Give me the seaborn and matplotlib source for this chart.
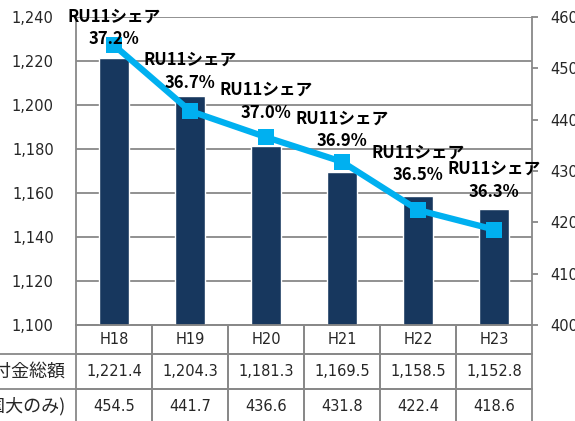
import matplotlib
matplotlib.use("Agg")
import matplotlib.pyplot as plt
import seaborn as sns
import numpy as np
import pandas as pd

# chart data
years = ["H18", "H19", "H20", "H21", "H22", "H23"]
total_grant = [1221.4, 1204.3, 1181.3, 1169.5, 1158.5, 1152.8]
ru11_grant = [454.5, 441.7, 436.6, 431.8, 422.4, 418.6]
ru11_share = [37.2, 36.7, 37.0, 36.9, 36.5, 36.3]
row_labels = ["交付金総額", "(国大のみ)"]
left_ticks = [1100, 1120, 1140, 1160, 1180, 1200, 1220, 1240]
right_ticks = [400, 410, 420, 430, 440, 450, 460]

BAR_COLOR = "#17375E"
LINE_COLOR = "#00B0F0"
GRID_COLOR = "#888888"
TEXT_COLOR = "#262626"
JP_FONT = ['Noto Sans CJK JP', 'DejaVu Sans']
# vertical lift of each share label above its point (pt), like Excel placed them
label_lift = [12.6, 28.4, 25.6, 23.0, 33.1, 35.6]

sns.set_theme(style="white")
# numbers in DejaVu, Japanese falls back to Noto CJK
plt.rcParams['font.family'] = ['DejaVu Sans', 'Noto Sans CJK JP']

df = pd.DataFrame({"year": years, "total": total_grant, "ru11": ru11_grant})

fig = plt.figure(figsize=(5.75, 4.21), dpi=100)
ax_w, ax_h = 456, 308
ax = fig.add_axes([76 / 575, 1 - 325 / 421, ax_w / 575, ax_h / 421])

sns.barplot(data=df, x="year", y="total", color=BAR_COLOR, saturation=1,
            width=0.4, ax=ax, zorder=2)
ax.set_xlim(-0.5, len(years) - 0.5)
ax.set_ylim(left_ticks[0], left_ticks[-1])
ax.set_yticks(left_ticks)
ax.set_yticklabels([f"{v:,}" for v in left_ticks])
ax.yaxis.grid(True, color=GRID_COLOR, linewidth=1.3)
ax.set_axisbelow(True)
ax.set_xlabel("")
ax.set_ylabel("")
ax.tick_params(axis="x", labelbottom=False, length=0)
ax.tick_params(axis="y", length=0, pad=16, labelsize=10.5, labelcolor=TEXT_COLOR)
for s in ["top", "right"]:
    ax.spines[s].set_visible(False)
for s in ["left", "bottom"]:
    ax.spines[s].set_color(GRID_COLOR)
    ax.spines[s].set_linewidth(1.3)

# right axis with RU11 line
ax2 = ax.twinx()
x_pos = np.arange(len(years))
sns.lineplot(x=x_pos, y=ru11_grant, ax=ax2, color=LINE_COLOR, linewidth=4.5,
             marker="s", markersize=11, markeredgewidth=0, zorder=3)
ax2.set_ylim(right_ticks[0], right_ticks[-1])
ax2.set_yticks(right_ticks)
ax2.set_xlim(-0.5, len(years) - 0.5)
ax2.tick_params(axis="y", direction="out", length=4, width=1.3, color=GRID_COLOR,
                pad=9, labelsize=10.5, labelcolor=TEXT_COLOR)
ax2.grid(False)
for s in ["top", "left", "bottom"]:
    ax2.spines[s].set_visible(False)
ax2.spines["right"].set_color(GRID_COLOR)
ax2.spines["right"].set_linewidth(1.3)

for i, (v, sh) in enumerate(zip(ru11_grant, ru11_share)):
    ax2.annotate(f"RU11シェア\n{sh:.1f}%", xy=(i, v), xytext=(0, label_lift[i]),
                 textcoords="offset points", ha="center", va="center",
                 fontsize=12, fontweight="bold", color="black",
                 family=JP_FONT, linespacing=1.35, zorder=5)

# data table under the chart (row label column sticks out to the left)
cell_text = [[f"{v:,.1f}" for v in total_grant], [f"{v:,.1f}" for v in ru11_grant]]
label_w = 120 / ax_w
tbl = ax.table(cellText=cell_text, rowLabels=row_labels, colLabels=years,
               cellLoc="center", rowLoc="right",
               bbox=[0, -99 / ax_h, 1, 99 / ax_h])
tbl.auto_set_font_size(False)
tbl.set_fontsize(10.5)
for (r, c), cell in tbl.get_celld().items():
    cell.set_edgecolor(GRID_COLOR)
    cell.set_linewidth(1.3)
    cell.set_facecolor("none")
    cell.get_text().set_color(TEXT_COLOR)
    cell.set_height((29 if r == 0 else 35) / ax_h)
    cell.set_width(label_w if c == -1 else 1 / len(years))
    if c == -1:
        cell.get_text().set_fontsize(13)
        cell.get_text().set_fontfamily(JP_FONT)
        cell.visible_edges = "T"

fig.savefig("out.png", dpi=100)
